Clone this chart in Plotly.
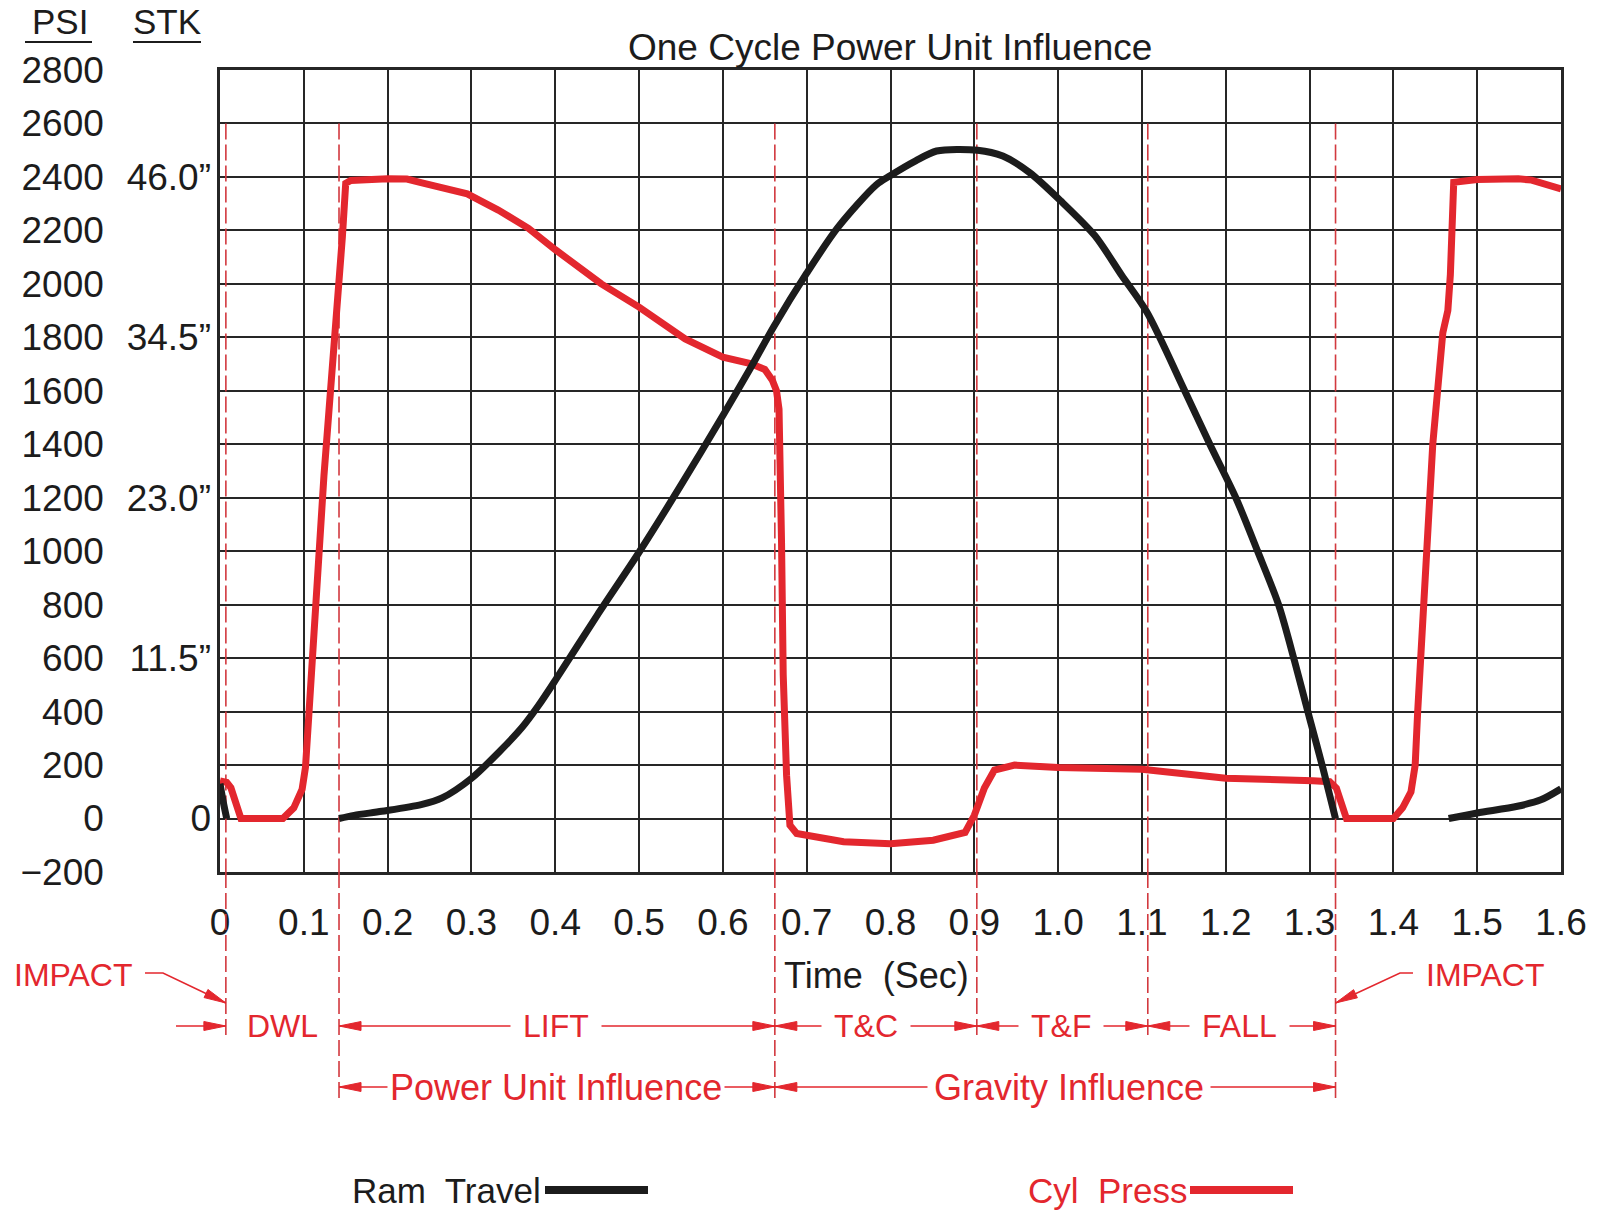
import math
import plotly.graph_objects as go

# Cyl Press (psi)
press_time = [0.0, 0.008, 0.013, 0.017, 0.022, 0.025, 0.075, 0.088, 0.098, 0.102,
              0.106, 0.112, 0.118, 0.124, 0.130, 0.136, 0.140, 0.144, 0.146, 0.150,
              0.156, 0.200, 0.223, 0.241, 0.295, 0.332, 0.368, 0.400, 0.455, 0.500,
              0.555, 0.600, 0.633, 0.650, 0.659, 0.664, 0.667, 0.670, 0.672, 0.676,
              0.680, 0.688, 0.744, 0.800, 0.851, 0.889, 0.900, 0.912, 0.924, 0.948,
              1.000, 1.100, 1.200, 1.304, 1.324, 1.332, 1.340, 1.344, 1.400, 1.411,
              1.421, 1.426, 1.429, 1.435, 1.441, 1.447, 1.453, 1.459, 1.465, 1.468,
              1.472, 1.477, 1.500, 1.549, 1.565, 1.600]
press_psi = [141, 135, 115, 77, 15, 0, 0, 40, 110, 192,
             387, 712, 1037, 1281, 1525, 1768, 1882, 2012, 2175, 2376,
             2387, 2393, 2392, 2378, 2337, 2276, 2208, 2128, 2000, 1913,
             1794, 1726, 1702, 1680, 1640, 1600, 1531, 1031, 537, 162,
             -25, -56, -87, -94, -81, -52, 12, 114, 181, 200,
             191, 184, 151, 141, 138, 114, 27, 0, 0, 40,
             100, 200, 400, 800, 1067, 1400, 1630, 1817, 1900, 2035,
             2380, 2382, 2390, 2393, 2388, 2355]

# Ram Travel (inches of stroke), None = gap between strokes
ram_time = [0.0, 0.004, 0.008, None,
            0.142, 0.16, 0.193, 0.24, 0.265, 0.30, 0.333, 0.36, 0.38, 0.40,
            0.45, 0.50, 0.55, 0.60, 0.633, 0.661, 0.70, 0.737, 0.783, 0.80,
            0.83, 0.855, 0.904, 0.934, 0.966, 1.003, 1.044, 1.076, 1.106, 1.151,
            1.181, 1.212, 1.238, 1.263, 1.282, 1.300, 1.316, 1.331, None,
            1.466, 1.5, 1.548, 1.576, 1.6]
ram_stroke = [2.5, 1.15, 0.0, None,
              0.0, 0.23, 0.52, 1.0, 1.48, 2.88, 4.77, 6.5, 8.1, 9.9,
              14.57, 19.09, 23.9, 28.9, 32.3, 35.3, 39.1, 42.36, 45.43, 46.10,
              47.15, 47.86, 47.92, 47.50, 46.31, 44.29, 41.78, 38.93, 36.30, 30.67,
              26.83, 23.0, 19.17, 15.33, 11.3, 7.2, 3.6, 0.0, None,
              0.0, 0.40, 0.88, 1.34, 2.13]

psi_ticks = list(range(-200, 2801, 200))
stk_ticks = [0, 11.5, 23.0, 34.5, 46.0]
stk_labels = ["0", "11.5\u201d", "23.0\u201d", "34.5\u201d", "46.0\u201d"]
time_ticks = [0, 0.1, 0.2, 0.3, 0.4, 0.5, 0.6, 0.7, 0.8, 0.9, 1.0, 1.1, 1.2, 1.3, 1.4, 1.5, 1.6]
time_labels = ["0", "0.1", "0.2", "0.3", "0.4", "0.5", "0.6", "0.7", "0.8",
               "0.9", "1.0", "1.1", "1.2", "1.3", "1.4", "1.5", "1.6"]

# phase boundaries (sec) and the phases between them
phase_bounds = [0.007, 0.142, 0.662, 0.903, 1.107, 1.331]
phase_row1 = [("LIFT", 0.142, 0.662, 0.401, 12), ("T&C", 0.662, 0.903, 0.771, 12),
              ("T&F", 0.903, 1.107, 1.003, 12), ("FALL", 1.107, 1.331, 1.216, 12)]
phase_row2 = [("Power Unit Influence", 0.142, 0.662, 0.401, 2),
              ("Gravity Influence", 0.662, 1.331, 1.013, 6)]

RED = "#E3272E"
DASH_RED = "#D2393F"
BLACK = "#1C1C1C"
GRID = "#262626"
FONT = "Liberation Sans, Arial, sans-serif"
CAD_SIZE = 32

W, H = 1601, 1210
L, R, T, B = 220, 1561, 70, 872
PSI_MIN, PSI_MAX = -200, 2800
STK_PER_PSI = 46.0 / 2400


def pxx(X):
    return (X - L) / (R - L)


def pxy(Y):
    return (B - Y) / (B - T)


def dx(t):
    return L + t / 1.6 * (R - L)


fig = go.Figure()
fig.add_trace(go.Scatter(x=press_time, y=press_psi, mode="lines", name="Cyl Press",
                         line=dict(color=RED, width=7), showlegend=False))
fig.add_trace(go.Scatter(x=ram_time, y=ram_stroke, mode="lines", name="Ram Travel",
                         yaxis="y2", connectgaps=False,
                         line=dict(color=BLACK, width=7, shape="spline", smoothing=0.8),
                         showlegend=False))


def path(points):
    return "M " + " L ".join(f"{pxx(X):.5f},{pxy(Y):.5f}" for X, Y in points)


def add_poly(points, color, width, dash="solid"):
    fig.add_shape(type="path", path=path(points), xref="paper", yref="paper",
                  fillcolor="rgba(0,0,0,0)", layer="above",
                  line=dict(color=color, width=width, dash=dash))


def add_head(tip, frm, color=RED, size=22, half=4.5):
    ux, uy = tip[0] - frm[0], tip[1] - frm[1]
    n = math.hypot(ux, uy)
    ux, uy = ux / n, uy / n
    bx, by = tip[0] - ux * size, tip[1] - uy * size
    pts = [tip, (bx - uy * half, by + ux * half), (bx + uy * half, by - ux * half)]
    fig.add_shape(type="path", path=path(pts) + " Z", xref="paper", yref="paper",
                  fillcolor=color, line=dict(color=color, width=1), layer="above")


def add_text(X, Y, text, size, color, anchor="center", **kw):
    fig.add_annotation(x=pxx(X), xref="paper", y=pxy(Y), yref="paper", text=text,
                       xanchor=anchor, yanchor="middle", showarrow=False,
                       font=dict(family=FONT, size=size, color=color), **kw)


# dashed phase lines: inside the grid and down into the label rows
line_ends = [1040, 1102, 1102, 1040, 1040, 1102]
for xb, yend in zip(phase_bounds, line_ends):
    fig.add_shape(type="line", x0=xb, x1=xb, y0=2600, y1=PSI_MIN, xref="x", yref="y",
                  layer="between", line=dict(color=DASH_RED, width=1.6, dash="16px,5px"))
    add_poly([(dx(xb), B), (dx(xb), yend)], DASH_RED, 1.6, dash="16px,5px")

ROW1, ROW2 = 1026, 1087


def add_dim(label, x0, x1, xc, pad, Y, size):
    X0, X1 = dx(x0), dx(x1)
    add_poly([(X0, Y), (X1, Y)], RED, 1.6)
    add_head((X0, Y), (X1, Y))
    add_head((X1, Y), (X0, Y))
    add_text(dx(xc), Y, label, size, RED, bgcolor="white", borderpad=pad)


for lab, a, b, c, p in phase_row1:
    add_dim(lab, a, b, c, p, ROW1, CAD_SIZE)
for lab, a, b, c, p in phase_row2:
    add_dim(lab, a, b, c, p, ROW2, 36)

# DWL + its entry arrow
add_poly([(176, ROW1), (dx(phase_bounds[0]), ROW1)], RED, 1.6)
add_head((dx(phase_bounds[0]), ROW1), (176, ROW1))
add_text(282, ROW1, "DWL", CAD_SIZE, RED)

# IMPACT leaders
add_text(135, 975, "IMPACT", CAD_SIZE, RED, anchor="right")
add_poly([(145, 973), (163, 973), (dx(phase_bounds[0]), 1003)], RED, 1.6)
add_head((dx(phase_bounds[0]), 1003), (163, 973))
add_text(1424, 975, "IMPACT", CAD_SIZE, RED, anchor="left")
add_poly([(1413, 973), (1400, 973), (dx(phase_bounds[-1]), 1003)], RED, 1.6)
add_head((dx(phase_bounds[-1]), 1003), (1400, 973))

# axis caption, title, column headers
add_text(876, 975, "Time  (Sec)", 36, BLACK)
add_text(890, 47, "One Cycle Power Unit Influence", 37, BLACK)
for txt, cx, u0, u1 in [("PSI", 60, 25, 92), ("STK", 167, 133, 201)]:
    add_text(cx, 22, txt, 35, BLACK)
    add_poly([(u0, 42), (u1, 42)], BLACK, 2)

# legend keys
add_text(543, 1190, "Ram  Travel", 35, BLACK, anchor="right")
add_poly([(545, 1190), (648, 1190)], BLACK, 8)
add_text(1189, 1190, "Cyl  Press", 35, RED, anchor="right")
add_poly([(1190, 1190), (1293, 1190)], RED, 8)

axis_common = dict(showgrid=True, gridcolor=GRID, gridwidth=2, zeroline=False,
                   showline=True, linecolor=GRID, linewidth=2.5, mirror=True, ticks="",
                   tickfont=dict(family=FONT, size=37, color=BLACK))
fig.update_layout(
    width=W, height=H, margin=dict(l=L, r=W - R, t=T, b=H - B),
    paper_bgcolor="white", plot_bgcolor="white", showlegend=False,
    xaxis=dict(range=[0, 1.6], tickvals=time_ticks, ticktext=time_labels,
               ticklabelstandoff=16, **axis_common),
    yaxis=dict(range=[PSI_MIN, PSI_MAX], tickvals=psi_ticks, ticklabelstandoff=106,
               **axis_common),
    yaxis2=dict(range=[PSI_MIN * STK_PER_PSI, PSI_MAX * STK_PER_PSI], overlaying="y",
                side="left", anchor="x", tickvals=stk_ticks, ticktext=stk_labels,
                showgrid=False, zeroline=False, showline=False, ticks="",
                ticklabelstandoff=8, tickfont=dict(family=FONT, size=37, color=BLACK)),
)

fig.write_html("out.html", config={"displayModeBar": False},
               post_script="document.body.style.margin='0';")
